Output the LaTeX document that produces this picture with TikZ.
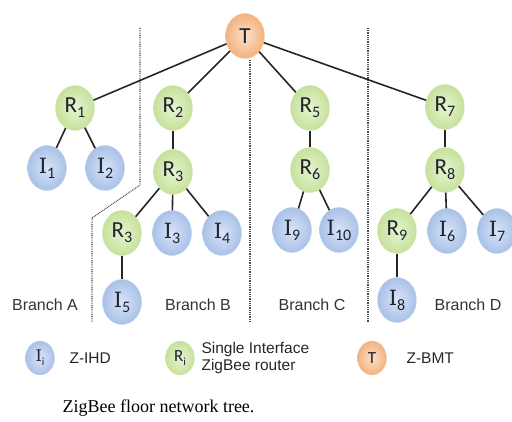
\documentclass[tikz,border=0pt]{standalone}
\usepackage{fontspec}
\setmainfont{Liberation Serif}
\setsansfont{Liberation Sans}
\newfontfamily\calibri{Carlito}
\newfontfamily\cambria{DejaVu Serif}
\usetikzlibrary{shapes.geometric}
\definecolor{RouteurIn}{HTML}{E6F4D0}
\definecolor{RouteurOut}{HTML}{C6E19C}
\definecolor{RouteurBord}{HTML}{D2E6B4}
\definecolor{IhdIn}{HTML}{D8E4F6}
\definecolor{IhdOut}{HTML}{A9C1E8}
\definecolor{IhdBord}{HTML}{C0D0EC}
\definecolor{BmtIn}{HTML}{FCE0C8}
\definecolor{BmtOut}{HTML}{F3B27E}
\definecolor{BmtBord}{HTML}{F2C8A4}
\definecolor{Texte}{HTML}{1E2330}
\tikzset{%
    Noeud/.style={%
        ellipse,
        minimum width=39pt,
        minimum height=45pt,
        inner sep=0pt,
        thin,
        text=Texte,
        font=\fontsize{23}{23}\selectfont
    },
    Routeur node/.style={%
        Noeud,
        draw=RouteurBord,
        inner color=RouteurIn,
        outer color=RouteurOut
    },
    Ihd node/.style={%
        Noeud,
        draw=IhdBord,
        inner color=IhdIn,
        outer color=IhdOut
    },
    Bmt node/.style={%
        Noeud,
        draw=BmtBord,
        inner color=BmtIn,
        outer color=BmtOut
    },
    Legende/.style={%
        minimum width=29pt,
        minimum height=34pt,
        font=\fontsize{17}{17}\selectfont
    },
    Lien/.style={%
        line width=1.6pt,
        draw=black!85
    },
    Limite/.style={%
        line width=1.1pt,
        draw=black!70,
        dash pattern=on 0.9pt off 0.9pt
    },
    Branche/.style={%
        text=black!80,
        font=\sffamily\fontsize{16}{16}\selectfont
    },
    Texte legende/.style={%
        anchor=west,
        align=left,
        text=black!85,
        font=\sffamily\fontsize{15.5}{17}\selectfont
    }
}
\newcommand{\Indice}[1]{\raisebox{-.45ex}{\calibri\fontsize{16}{16}\selectfont #1}}
\newcommand{\Rt}[1]{{\calibri R\Indice{#1}}}
\newcommand{\Id}[1]{{\cambria\fontsize{21}{21}\selectfont I\Indice{#1}}}

\begin{document}
\begin{tikzpicture}[x=1pt,y=-1pt]
\useasboundingbox (0,0) rectangle (512,422);

\draw[Limite] (140,28) -- (140,185) -- (92,218) -- (92,322);
\draw[Limite] (250,60) -- (250,322);
\draw[Limite] (368,28) -- (368,322);

\node[Bmt node] (T) at (245,36) {\calibri T};

\node[Routeur node] (R1) at (75,108) {\Rt{1}};
\node[Routeur node] (R2) at (173,108) {\Rt{2}};
\node[Routeur node] (R3) at (173,172) {\Rt{3}};
\node[Routeur node] (R3bis) at (122,233) {\Rt{3}};
\node[Routeur node] (R5) at (310,108) {\Rt{5}};
\node[Routeur node] (R6) at (310,170) {\Rt{6}};
\node[Routeur node] (R7) at (445,107) {\Rt{7}};
\node[Routeur node] (R8) at (445,170) {\Rt{8}};
\node[Routeur node] (R9) at (397,231) {\Rt{9}};

\node[Ihd node] (I1) at (47,168) {\Id{1}};
\node[Ihd node] (I2) at (105,168) {\Id{2}};
\node[Ihd node] (I3) at (172,233) {\Id{3}};
\node[Ihd node] (I4) at (222,233) {\Id{4}};
\node[Ihd node] (I5) at (122,302) {\Id{5}};
\node[Ihd node] (I9) at (292,230) {\Id{9}};
\node[Ihd node] (I10) at (339,230) {\Id{10}};
\node[Ihd node] (I6) at (447,231) {\Id{6}};
\node[Ihd node] (I7) at (497,231) {\Id{7}};
\node[Ihd node] (I8) at (397,300) {\Id{8}};

\draw[Lien] (T) -- (R1);
\draw[Lien] (T) -- (R2);
\draw[Lien] (T) -- (R5);
\draw[Lien] (T) -- (R7);

\draw[Lien] (R1) -- (I1);
\draw[Lien] (R1) -- (I2);

\draw[Lien] (R2) -- (R3);
\draw[Lien] (R3) -- (R3bis);
\draw[Lien] (R3) -- (I3);
\draw[Lien] (R3) -- (I4);
\draw[Lien] (R3bis) -- (I5);

\draw[Lien] (R5) -- (R6);
\draw[Lien] (R6) -- (I9);
\draw[Lien] (R6) -- (I10);

\draw[Lien] (R7) -- (R8);
\draw[Lien] (R8) -- (R9);
\draw[Lien] (R8) -- (I6);
\draw[Lien] (R8) -- (I7);
\draw[Lien] (R9) -- (I8);

\node[Branche] (brA) at (45,305) {Branch A};
\node[Branche] (brB) at (198,305) {Branch B};
\node[Branche] (brC) at (312,305) {Branch C};
\node[Branche] (brD) at (468,305) {Branch D};

\node[Ihd node,Legende] (legI) at (40,358) {{\cambria\fontsize{16}{16}\selectfont I\raisebox{-.45ex}{\calibri\fontsize{11}{11}\selectfont i}}};
\node[Texte legende] (txtI) at (66,358) {Z-IHD};

\node[Routeur node,Legende] (legR) at (180,358) {{\calibri R\raisebox{-.45ex}{\fontsize{11}{11}\selectfont i}}};
\node[Texte legende] (txtR) at (198,358) {Single Interface\\ZigBee router};

\node[Bmt node,Legende] (legT) at (372,358) {\calibri T};
\node[Texte legende] (txtT) at (403,358) {Z-BMT};

\node[anchor=west,font=\fontsize{18}{18}\selectfont] (legende) at (59,408)
    {ZigBee floor network tree.};

\end{tikzpicture}
\end{document}
